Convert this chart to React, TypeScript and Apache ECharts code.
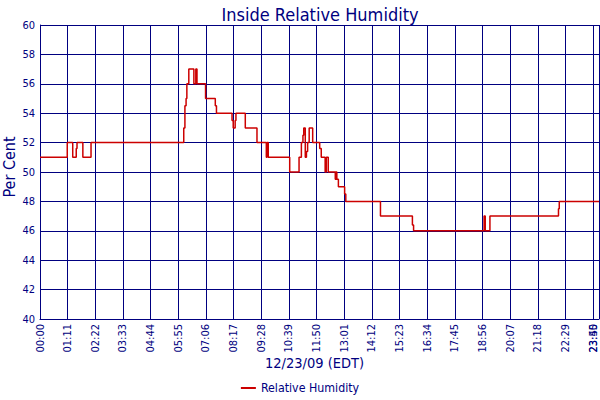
import React, { useEffect, useRef } from "react";
import * as echarts from "echarts";

// times in minutes after midnight, values in per cent (step readings)
const times = [
  0, 70, 84, 93, 95, 110, 131, 369, 372, 375, 377, 382, 395, 400, 403, 425, 450, 453,
  493, 496, 501, 503, 527, 557, 581, 583, 586, 641, 665, 671, 675, 677, 681, 684, 687,
  691, 700, 718, 722, 732, 735, 740, 758, 760, 762, 766, 782, 785, 874, 956, 959, 1140,
  1143, 1155, 1331, 1333, 1435,
];
const humidity = [
  51, 52, 51, 51.6, 52, 51, 52, 53, 54.5, 55, 56, 57, 56, 57, 56, 55, 54.5, 54,
  53.5, 53, 53.5, 54, 53, 52, 51, 52, 51, 50, 51, 52, 52.5, 53, 51, 51.4, 52,
  53, 52, 51.6, 51, 50, 51, 50, 49.5, 50, 49.5, 49, 48.5, 48, 47, 46.4, 46, 47,
  46, 47, 47.5, 48, 48,
];
const xMax = 1435;
const xInterval = 71;
const yMin = 40;
const yMax = 60;
const yInterval = 2;

const NAVY = "#000080";
const FONT = "'DejaVu Sans Condensed', 'DejaVu Sans', sans-serif";

function fmtTime(v: number): string {
  const h = Math.floor(v / 60);
  const m = Math.round(v - h * 60);
  return String(h).padStart(2, "0") + ":" + String(m).padStart(2, "0");
}

export default function App() {
  const ref = useRef<HTMLDivElement>(null);
  useEffect(() => {
    if (!ref.current) return;
    const chart = echarts.init(ref.current, undefined, { renderer: "svg" });
    const data = times.map((t, i) => [t, humidity[i]]);
    const labelBase = { color: NAVY, fontFamily: FONT, fontSize: 11 };
    chart.setOption({
      animation: false,
      backgroundColor: "#ffffff",
      title: {
        text: "Inside Relative Humidity",
        left: 315,
        top: 0,
        textAlign: "center",
        textStyle: { color: NAVY, fontFamily: FONT, fontSize: 18, fontWeight: "normal" },
      },
      legend: {
        bottom: 1,
        left: "center",
        icon: "rect",
        itemWidth: 15,
        itemHeight: 2,
        itemGap: 4,
        textStyle: { color: NAVY, fontFamily: FONT, fontSize: 12.3 },
        data: ["Relative Humidity"],
      },
      grid: { left: 40, right: 1, top: 25, bottom: 81, containLabel: false, outerBoundsMode: "none" },
      xAxis: [
        {
          type: "value",
          position: "bottom",
          min: 0,
          max: xMax,
          interval: xInterval,
          name: "12/23/09 (EDT)",
          nameLocation: "middle",
          nameGap: 36,
          nameMoveOverlap: false,
          nameTextStyle: { color: NAVY, fontFamily: FONT, fontSize: 14.5, padding: [0, 10, 0, 0] },
          axisLine: { show: true, lineStyle: { color: NAVY, width: 1 } },
          axisTick: { show: false },
          splitLine: { show: true, lineStyle: { color: NAVY, width: 1 } },
          axisLabel: {
            ...labelBase,
            rotate: 90,
            margin: 5,
            showMaxLabel: false,
            showMinLabel: true,
            hideOverlap: false,
            formatter: (v: number) => fmtTime(v),
          },
        },
        {
          type: "value",
          position: "bottom",
          min: 0,
          max: xMax,
          interval: xMax,
          axisLine: { show: false },
          axisTick: { show: false },
          splitLine: { show: false },
          axisLabel: {
            ...labelBase,
            rotate: 90,
            margin: 5,
            verticalAlign: "bottom",
            showMaxLabel: true,
            showMinLabel: false,
            formatter: (v: number) => (v === 0 ? "" : fmtTime(v)),
          },
        },
      ],
      yAxis: {
        type: "value",
        min: yMin,
        max: yMax,
        interval: yInterval,
        name: "Per Cent",
        nameLocation: "middle",
        nameGap: 23,
        nameMoveOverlap: false,
        nameTextStyle: { color: NAVY, fontFamily: FONT, fontSize: 16, padding: [0, 0, 0, 10] },
        axisLine: { show: true, lineStyle: { color: NAVY, width: 1 } },
        axisTick: { show: false },
        splitLine: { show: true, lineStyle: { color: NAVY, width: 1 } },
        axisLabel: { ...labelBase, margin: 5 },
      },
      series: [
        {
          name: "Relative Humidity",
          type: "line",
          step: "end",
          xAxisIndex: 0,
          data,
          showSymbol: false,
          symbol: "none",
          color: "#cc0000",
          lineStyle: { color: "#cc0000", width: 1.5 },
        },
      ],
    });
    return () => chart.dispose();
  }, []);
  return <div ref={ref} style={{ width: 600, height: 400, position: "absolute", left: 0, top: 0 }} />;
}
